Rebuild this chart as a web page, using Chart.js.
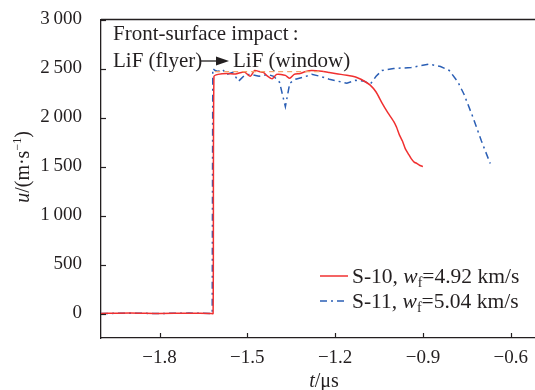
<!DOCTYPE html>
<html>
<head>
<meta charset="utf-8">
<script src="https://cdn.jsdelivr.net/npm/chart.js@4.4.1/dist/chart.umd.min.js"></script>
<style>
  html, body { margin: 0; padding: 0; background: #fff; overflow: hidden; }
  #wrap { width: 535px; height: 390px; }
</style>
</head>
<body>
<div id="wrap"><canvas id="myChart"></canvas></div>
<script>
// tick labels
var xTicks = [-1.8, -1.5, -1.2, -0.9, -0.6];
var yTicks = [0, 500, 1000, 1500, 2000, 2500, 3000];

// S-10, wf = 4.92 km/s (red)
var s10Time = [-2.0, -1.9, -1.8, -1.7, -1.625, -1.617, -1.614, -1.60, -1.57, -1.54, -1.51, -1.49, -1.475,
  -1.46, -1.445, -1.43, -1.415, -1.40, -1.385, -1.37, -1.355, -1.34, -1.32, -1.30, -1.28, -1.26, -1.24,
  -1.22, -1.20, -1.18, -1.16, -1.14, -1.12, -1.10, -1.08, -1.06, -1.04, -1.02, -1.00, -0.99, -0.98,
  -0.97, -0.96, -0.95, -0.94, -0.93, -0.92, -0.91, -0.90];
var s10Vel = [0, 5, 0, 3, 0, 0, 2420, 2440, 2450, 2445, 2465, 2420, 2480,
  2470, 2460, 2420, 2395, 2440, 2440, 2430, 2400, 2440, 2450, 2470, 2480, 2475, 2470,
  2460, 2450, 2440, 2430, 2420, 2400, 2370, 2330, 2260, 2150, 2050, 1960, 1900, 1820,
  1760, 1680, 1630, 1580, 1545, 1530, 1510, 1500];

// S-11, wf = 5.04 km/s (blue)
var s11Time = [-2.0, -1.9, -1.8, -1.7, -1.620, -1.618, -1.61, -1.60, -1.585, -1.57, -1.55, -1.53, -1.51,
  -1.49, -1.46, -1.43, -1.41, -1.39, -1.37, -1.355, -1.335, -1.31, -1.28, -1.25, -1.22, -1.19, -1.16,
  -1.13, -1.10, -1.08, -1.06, -1.04, -1.00, -0.94, -0.88, -0.84, -0.81, -0.78, -0.76, -0.73, -0.70, -0.67];
var s11Vel = [0, 3, 0, 4, 0, 2500, 2480, 2470, 2490, 2440, 2460, 2370, 2430,
  2440, 2420, 2440, 2420, 2360, 2110, 2350, 2390, 2410, 2440, 2420, 2390, 2370, 2350,
  2380, 2370, 2340, 2420, 2480, 2500, 2510, 2545, 2520, 2480, 2360, 2240, 2010, 1760, 1530];

// plateau reference (orange dashed)
var refTime = [-1.610, -1.24];
var refVel = [2468, 2468];

function pts(t, v) { return t.map(function (x, i) { return { x: x, y: v[i] }; }); }

var SERIF = '"Liberation Serif", "DejaVu Serif", serif';
var INK = '#231f20';

function drawRuns(c, runs, x, y) {
  runs.forEach(function (r) {
    c.font = (r.it ? 'italic ' : '') + r.size + 'px ' + SERIF;
    c.fillText(r.t, x, y + (r.dy || 0));
    x += c.measureText(r.t).width + (r.gap || 0);
  });
  return x;
}

var decor = {
  id: 'decor',
  afterDraw: function (chart) {
    var c = chart.ctx, a = chart.chartArea;
    var xs = chart.scales.x, ys = chart.scales.y;
    c.save();
    c.strokeStyle = INK;
    c.lineWidth = 1.3;
    // top frame line
    c.beginPath();
    c.moveTo(a.left, a.top); c.lineTo(a.right, a.top);
    c.stroke();
    // inward ticks
    c.lineWidth = 1.2;
    xTicks.forEach(function (v) {
      var p = Math.round(xs.getPixelForValue(v)) + 0.5;
      c.beginPath(); c.moveTo(p, a.bottom); c.lineTo(p, a.bottom - 5); c.stroke();
    });
    yTicks.forEach(function (v) {
      var p = Math.round(ys.getPixelForValue(v)) + 0.5;
      c.beginPath(); c.moveTo(a.left, p); c.lineTo(a.left + 5, p); c.stroke();
    });

    c.fillStyle = INK;
    c.textBaseline = 'alphabetic';
    // annotation
    c.font = '21px ' + SERIF;
    c.fillText('Front-surface impact\u2009:', 113, 40);
    c.fillText('LiF (flyer)', 113, 67);
    c.lineWidth = 1.3;
    c.beginPath(); c.moveTo(200, 61); c.lineTo(219, 61); c.stroke();
    c.beginPath(); c.moveTo(229, 61); c.lineTo(216, 56.5); c.lineTo(216, 65.5); c.closePath(); c.fill();
    c.fillText('LiF (window)', 233, 67);

    // legend
    var lg = [
      { y: 276, color: '#f03030', dash: [], label: 'S-10, ', val: '=4.92 km/s' },
      { y: 301, color: '#2b5fb5', dash: [7, 4, 2, 4], label: 'S-11, ', val: '=5.04 km/s' }
    ];
    lg.forEach(function (l) {
      c.strokeStyle = l.color;
      c.lineWidth = 1.5;
      c.setLineDash(l.dash);
      c.beginPath(); c.moveTo(320, l.y); c.lineTo(348, l.y); c.stroke();
      c.setLineDash([]);
      c.fillStyle = INK;
      drawRuns(c, [
        { t: l.label, size: 21.5 },
        { t: 'w', size: 21.5, it: true },
        { t: 'f', size: 14, dy: 4 },
        { t: l.val, size: 21.5 }
      ], 352, l.y + 7);
    });

    // axis titles
    c.fillStyle = INK;
    var w = 0;
    c.font = 'italic 20px ' + SERIF;
    var tw = c.measureText('t').width;
    c.font = '20px ' + SERIF;
    tw += c.measureText('/\u03bcs').width;
    drawRuns(c, [{ t: 't', size: 20, it: true }, { t: '/\u03bcs', size: 20 }], 324 - tw / 2, 387);

    c.translate(29, 167);
    c.rotate(-Math.PI / 2);
    var runs = [
      { t: 'u', size: 20, it: true },
      { t: '/(m\u00b7s', size: 20 },
      { t: '\u22121', size: 12, dy: -8 },
      { t: ')', size: 20 }
    ];
    runs.forEach(function (r) {
      c.font = (r.it ? 'italic ' : '') + r.size + 'px ' + SERIF;
      w += c.measureText(r.t).width;
    });
    drawRuns(c, runs, -w / 2, 0);
    c.restore();
  }
};

var tickFont = { family: SERIF, size: 19 };

new Chart(document.getElementById('myChart'), {
  type: 'line',
  data: {
    datasets: [
      {
        label: 'ref',
        data: pts(refTime, refVel),
        borderColor: '#f4a46a',
        borderWidth: 1.3,
        borderDash: [5, 4],
        pointRadius: 0
      },
      {
        label: 'S-10',
        data: pts(s10Time, s10Vel),
        borderColor: '#f03030',
        borderWidth: 1.5,
        pointRadius: 0,
        tension: 0.2
      },
      {
        label: 'S-11',
        data: pts(s11Time, s11Vel),
        borderColor: '#2b5fb5',
        borderWidth: 1.5,
        borderDash: [7, 4, 2, 4],
        pointRadius: 0
      }
    ]
  },
  options: {
    responsive: true,
    maintainAspectRatio: false,
    animation: false,
    layout: { padding: { top: 19.5, right: 0, left: 0, bottom: 0 } },
    plugins: { legend: { display: false }, tooltip: { enabled: false } },
    scales: {
      x: {
        type: 'linear',
        min: -2.0,
        max: -0.517,
        afterBuildTicks: function (s) { s.ticks = xTicks.map(function (v) { return { value: v }; }); },
        afterFit: function (s) { s.height = 52; s.paddingLeft = 0; s.paddingRight = 0; },
        grid: { display: false, drawTicks: false },
        border: { display: true, color: INK, width: 1.3 },
        ticks: {
          font: tickFont, color: INK, padding: 9, maxRotation: 0,
          callback: function (v) { return (v < 0 ? '\u2212' : '') + Math.abs(v).toFixed(1); }
        }
      },
      y: {
        min: -250,
        max: 3000,
        afterBuildTicks: function (s) { s.ticks = yTicks.map(function (v) { return { value: v }; }); },
        afterFit: function (s) { s.width = 101; s.paddingTop = 0; s.paddingBottom = 0; },
        grid: { display: false, drawTicks: false },
        border: { display: true, color: INK, width: 1.3 },
        ticks: {
          font: tickFont, color: INK, padding: 19,
          callback: function (v) {
            return v >= 1000 ? Math.floor(v / 1000) + '\u2009' + String(v % 1000).padStart(3, '0') : String(v);
          }
        }
      }
    }
  },
  plugins: [decor]
});
</script>
</body>
</html>
